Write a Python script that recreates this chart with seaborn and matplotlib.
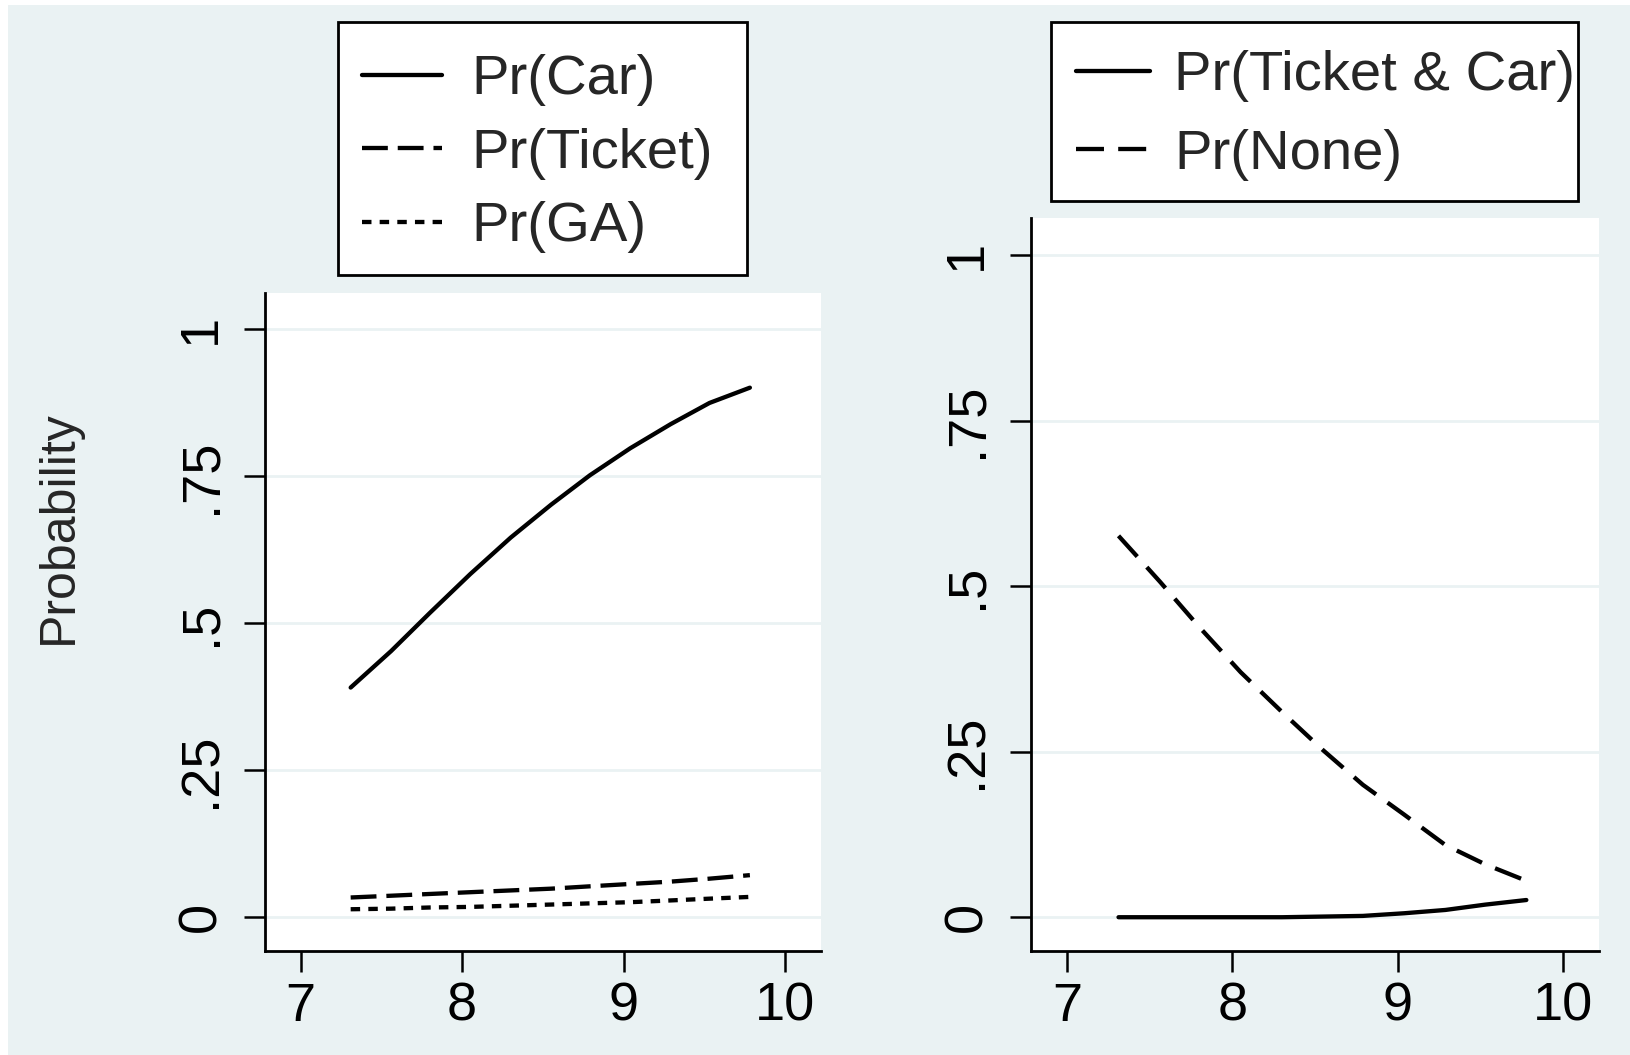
import matplotlib
matplotlib.use("Agg")
import matplotlib.pyplot as plt
import seaborn as sns
import pandas as pd
from matplotlib.patches import Rectangle
from matplotlib.lines import Line2D

# ---- data ----
x_vals = [7.31, 7.56, 7.80, 8.05, 8.30, 8.55, 8.79, 9.04, 9.29, 9.53, 9.78]
pr_car = [0.390, 0.452, 0.517, 0.583, 0.645, 0.701, 0.751, 0.797, 0.838, 0.874, 0.900]
pr_ticket = [0.033, 0.036, 0.039, 0.042, 0.045, 0.048, 0.052, 0.056, 0.060, 0.065, 0.071]
pr_ga = [0.013, 0.014, 0.016, 0.017, 0.019, 0.021, 0.023, 0.025, 0.028, 0.031, 0.034]
pr_ticket_car = [0.000, 0.000, 0.000, 0.000, 0.000, 0.001, 0.002, 0.006, 0.011, 0.019, 0.026]
pr_none = [0.576, 0.507, 0.438, 0.370, 0.310, 0.252, 0.200, 0.155, 0.109, 0.080, 0.055]

left_labels = ["Pr(Car)", "Pr(Ticket)", "Pr(GA)"]
right_labels = ["Pr(Ticket & Car)", "Pr(None)"]
y_ticks = [0, 0.25, 0.5, 0.75, 1]
y_ticklabels = ["0", ".25", ".5", ".75", "1"]
x_ticks = [7, 8, 9, 10]
x_ticklabels = ["7", "8", "9", "10"]
y_label = "Probability"

# ---- style ----
BG = "#EAF2F3"
W, H = 1630, 1055
LW = 3.1

sns.set_style("ticks")
plt.rcParams["font.family"] = ["Liberation Sans", "DejaVu Sans"]

fig = plt.figure(figsize=(W / 100, H / 100), dpi=100)
fig.patch.set_facecolor("white")
fig.patches.append(Rectangle((8 / W, 0), 1 - 8 / W, 1 - 5 / H, transform=fig.transFigure,
                             facecolor=BG, edgecolor="none", zorder=-10))

ax1 = fig.add_axes([265 / W, 1 - 951 / H, (821 - 265) / W, (951 - 293) / H])
ax2 = fig.add_axes([1031 / W, 1 - 951 / H, (1599 - 1031) / W, (951 - 218) / H])

dash_map = {
    "Pr(Car)": "",
    "Pr(Ticket)": (6.0, 2.3),
    "Pr(GA)": (2.2, 1.9),
    "Pr(Ticket & Car)": "",
    "Pr(None)": (6.5, 3.3),
}

df_left = pd.DataFrame({
    "x": x_vals * 3,
    "y": pr_car + pr_ticket + pr_ga,
    "series": [left_labels[0]] * len(x_vals) + [left_labels[1]] * len(x_vals) + [left_labels[2]] * len(x_vals),
})
df_right = pd.DataFrame({
    "x": x_vals * 2,
    "y": pr_ticket_car + pr_none,
    "series": [right_labels[0]] * len(x_vals) + [right_labels[1]] * len(x_vals),
})

sns.lineplot(data=df_left, x="x", y="y", style="series", style_order=left_labels,
             dashes={k: dash_map[k] for k in left_labels}, color="black", linewidth=LW,
             ax=ax1, legend=False, estimator=None, sort=False)
sns.lineplot(data=df_right, x="x", y="y", style="series", style_order=right_labels,
             dashes={k: dash_map[k] for k in right_labels}, color="black", linewidth=LW,
             ax=ax2, legend=False, estimator=None, sort=False)

for ax, ylim in [(ax1, (-0.058, 1.061)), (ax2, (-0.051, 1.056))]:
    ax.set_facecolor("white")
    ax.set_xlim(6.78, 10.22)
    ax.set_ylim(*ylim)
    ax.set_xticks(x_ticks)
    ax.set_xticklabels(x_ticklabels)
    ax.set_yticks(y_ticks)
    ax.set_yticklabels(y_ticklabels)
    ax.set_xlabel("")
    ax.set_ylabel("")
    for s in ["top", "right"]:
        ax.spines[s].set_visible(False)
    for s in ["left", "bottom"]:
        ax.spines[s].set_color("black")
        ax.spines[s].set_linewidth(2.0)
    ax.yaxis.grid(True, color=BG, linewidth=2.0)
    ax.xaxis.grid(False)
    ax.set_axisbelow(True)
    ax.tick_params(axis="both", direction="out", length=15, width=1.8, color="black",
                   labelsize=39, labelcolor="black")
    ax.tick_params(axis="y", labelrotation=90, pad=13)
    ax.tick_params(axis="x", pad=7)
    for lab in ax.get_yticklabels():
        lab.set_va("center")


def make_legend(labels, anchor_px, box_px, hlen, hpad, lspace):
    x0, y0, x1, y1 = box_px
    fig.patches.append(Rectangle((x0 / W, 1 - y1 / H), (x1 - x0) / W, (y1 - y0) / H,
                                 transform=fig.transFigure, facecolor="white",
                                 edgecolor="black", linewidth=2.0, zorder=1))
    handles = []
    for lab in labels:
        d = dash_map[lab]
        h = Line2D([0], [0], color="black", linewidth=LW)
        if d != "":
            h.set_dashes(d)
        handles.append(h)
    leg = fig.legend(handles, labels, loc="upper left",
                     bbox_to_anchor=(anchor_px[0] / W, 1 - anchor_px[1] / H),
                     bbox_transform=fig.transFigure, fontsize=40.5, frameon=False,
                     borderpad=0.47, labelspacing=lspace, handlelength=hlen,
                     handletextpad=hpad, borderaxespad=0)
    leg.set_zorder(3)
    return leg


make_legend(left_labels, (336, 28), (338, 22, 747, 275), 1.42, 0.52, 0.38)
make_legend(right_labels, (1050, 24), (1051, 22, 1578, 201), 1.30, 0.44, 0.47)

fig.text(59 / W, 1 - 527 / H, y_label, rotation=90, fontsize=36, ha="center", va="center")

fig.savefig("out.png", dpi=100, facecolor=fig.get_facecolor())
